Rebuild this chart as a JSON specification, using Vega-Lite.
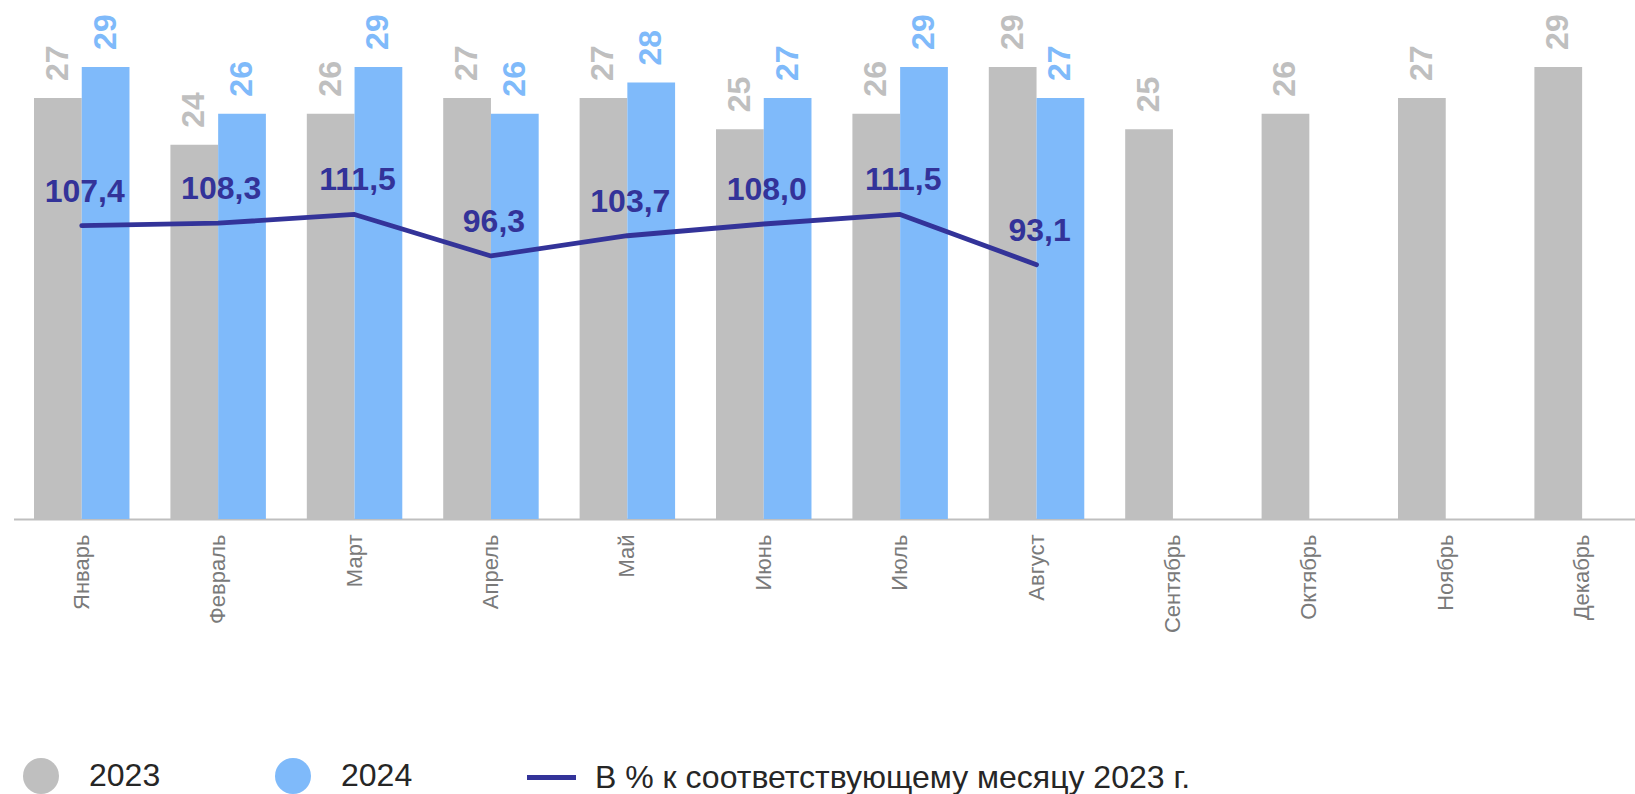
{
  "$schema": "https://vega.github.io/schema/vega-lite/v6.json",
  "width": 1621.5,
  "height": 519,
  "autosize": {"type": "none"},
  "padding": {"left": 13.5, "top": 0, "right": 0, "bottom": 275},
  "config": {
    "view": {"stroke": null},
    "font": "Liberation Sans",
    "locale": {"number": {"decimal": ",", "thousands": " ", "grouping": [3], "currency": ["", ""]}},
    "legend": {"padding": 0}
  },
  "datasets": {
    "bars": [
      {"month": "Январь", "year": "2023", "value": 27},
      {"month": "Февраль", "year": "2023", "value": 24},
      {"month": "Март", "year": "2023", "value": 26},
      {"month": "Апрель", "year": "2023", "value": 27},
      {"month": "Май", "year": "2023", "value": 27},
      {"month": "Июнь", "year": "2023", "value": 25},
      {"month": "Июль", "year": "2023", "value": 26},
      {"month": "Август", "year": "2023", "value": 29},
      {"month": "Сентябрь", "year": "2023", "value": 25},
      {"month": "Октябрь", "year": "2023", "value": 26},
      {"month": "Ноябрь", "year": "2023", "value": 27},
      {"month": "Декабрь", "year": "2023", "value": 29},
      {"month": "Январь", "year": "2024", "value": 29},
      {"month": "Февраль", "year": "2024", "value": 26},
      {"month": "Март", "year": "2024", "value": 29},
      {"month": "Апрель", "year": "2024", "value": 26},
      {"month": "Май", "year": "2024", "value": 28},
      {"month": "Июнь", "year": "2024", "value": 27},
      {"month": "Июль", "year": "2024", "value": 29},
      {"month": "Август", "year": "2024", "value": 27}
    ],
    "line": [
      {"month": "Январь", "pct": 107.4},
      {"month": "Февраль", "pct": 108.3},
      {"month": "Март", "pct": 111.5},
      {"month": "Апрель", "pct": 96.3},
      {"month": "Май", "pct": 103.7},
      {"month": "Июнь", "pct": 108.0},
      {"month": "Июль", "pct": 111.5},
      {"month": "Август", "pct": 93.1}
    ]
  },
  "encoding": {
    "x": {
      "field": "month",
      "type": "nominal",
      "sort": ["Январь", "Февраль", "Март", "Апрель", "Май", "Июнь", "Июль", "Август", "Сентябрь", "Октябрь", "Ноябрь", "Декабрь"],
      "scale": {"paddingInner": 0.3, "paddingOuter": 0.094, "align": 0.8},
      "axis": {
        "title": null,
        "labelAngle": 270,
        "labelFontSize": 22,
        "labelColor": "#7A7A7A",
        "labelPadding": 15,
        "ticks": false,
        "tickSize": 0,
        "domainColor": "#BFBFBF",
        "domainWidth": 2,
        "grid": false
      }
    }
  },
  "layer": [
    {
      "data": {"name": "bars"},
      "mark": {"type": "bar"},
      "encoding": {
        "xOffset": {"field": "year", "type": "nominal", "scale": {"paddingInner": 0, "paddingOuter": 0}},
        "y": {"field": "value", "type": "quantitative", "scale": {"domain": [0, 33.29], "nice": false}, "axis": null},
        "color": {
          "field": "year",
          "type": "nominal",
          "scale": {"domain": ["2023", "2024"], "range": ["#BFBFBF", "#7FBAFA"]},
          "legend": {
            "title": null,
            "orient": "none",
            "legendX": 9.5,
            "legendY": 758,
            "direction": "horizontal",
            "symbolType": "circle",
            "symbolSize": 1296,
            "symbolStrokeWidth": 0,
            "labelFontSize": 32,
            "labelColor": "#262626",
            "labelOffset": 30,
            "labelLimit": 1000,
            "columnPadding": 114
          }
        }
      }
    },
    {
      "data": {"name": "bars"},
      "mark": {"type": "text", "angle": 270, "align": "left", "baseline": "middle", "dx": 17, "fontSize": 32, "fontWeight": "bold"},
      "encoding": {
        "xOffset": {"field": "year", "type": "nominal", "scale": {"paddingInner": 0, "paddingOuter": 0}},
        "y": {"field": "value", "type": "quantitative", "scale": {"domain": [0, 33.29], "nice": false}, "axis": null},
        "text": {"field": "value", "type": "quantitative", "format": "d"},
        "color": {"field": "year", "type": "nominal", "scale": {"domain": ["2023", "2024"], "range": ["#BFBFBF", "#7FBAFA"]}}
      }
    },
    {
      "data": {"name": "line"},
      "mark": {"type": "line", "strokeWidth": 4.8, "strokeCap": "round", "strokeJoin": "round"},
      "encoding": {
        "y": {"field": "pct", "type": "quantitative", "scale": {"domain": [0, 190], "nice": false}, "axis": null},
        "stroke": {
          "datum": "В % к соответствующему месяцу 2023 г.",
          "type": "nominal",
          "scale": {"range": ["#333399"]},
          "legend": {
            "title": null,
            "orient": "none",
            "legendX": 511,
            "legendY": 750.5,
            "symbolType": "stroke",
            "symbolSize": 2401,
            "symbolStrokeWidth": 5,
            "labelFontSize": 32,
            "labelColor": "#262626",
            "labelOffset": 16.5,
            "labelLimit": 1000
          }
        }
      }
    },
    {
      "data": {"name": "line"},
      "mark": {"type": "text", "align": "center", "baseline": "alphabetic", "dy": -24, "dx": 3, "fontSize": 32, "fontWeight": "bold", "color": "#333399"},
      "encoding": {
        "y": {"field": "pct", "type": "quantitative", "scale": {"domain": [0, 190], "nice": false}, "axis": null},
        "text": {"field": "pct", "type": "quantitative", "format": ".1f"}
      }
    }
  ],
  "resolve": {"scale": {"y": "independent"}}
}
